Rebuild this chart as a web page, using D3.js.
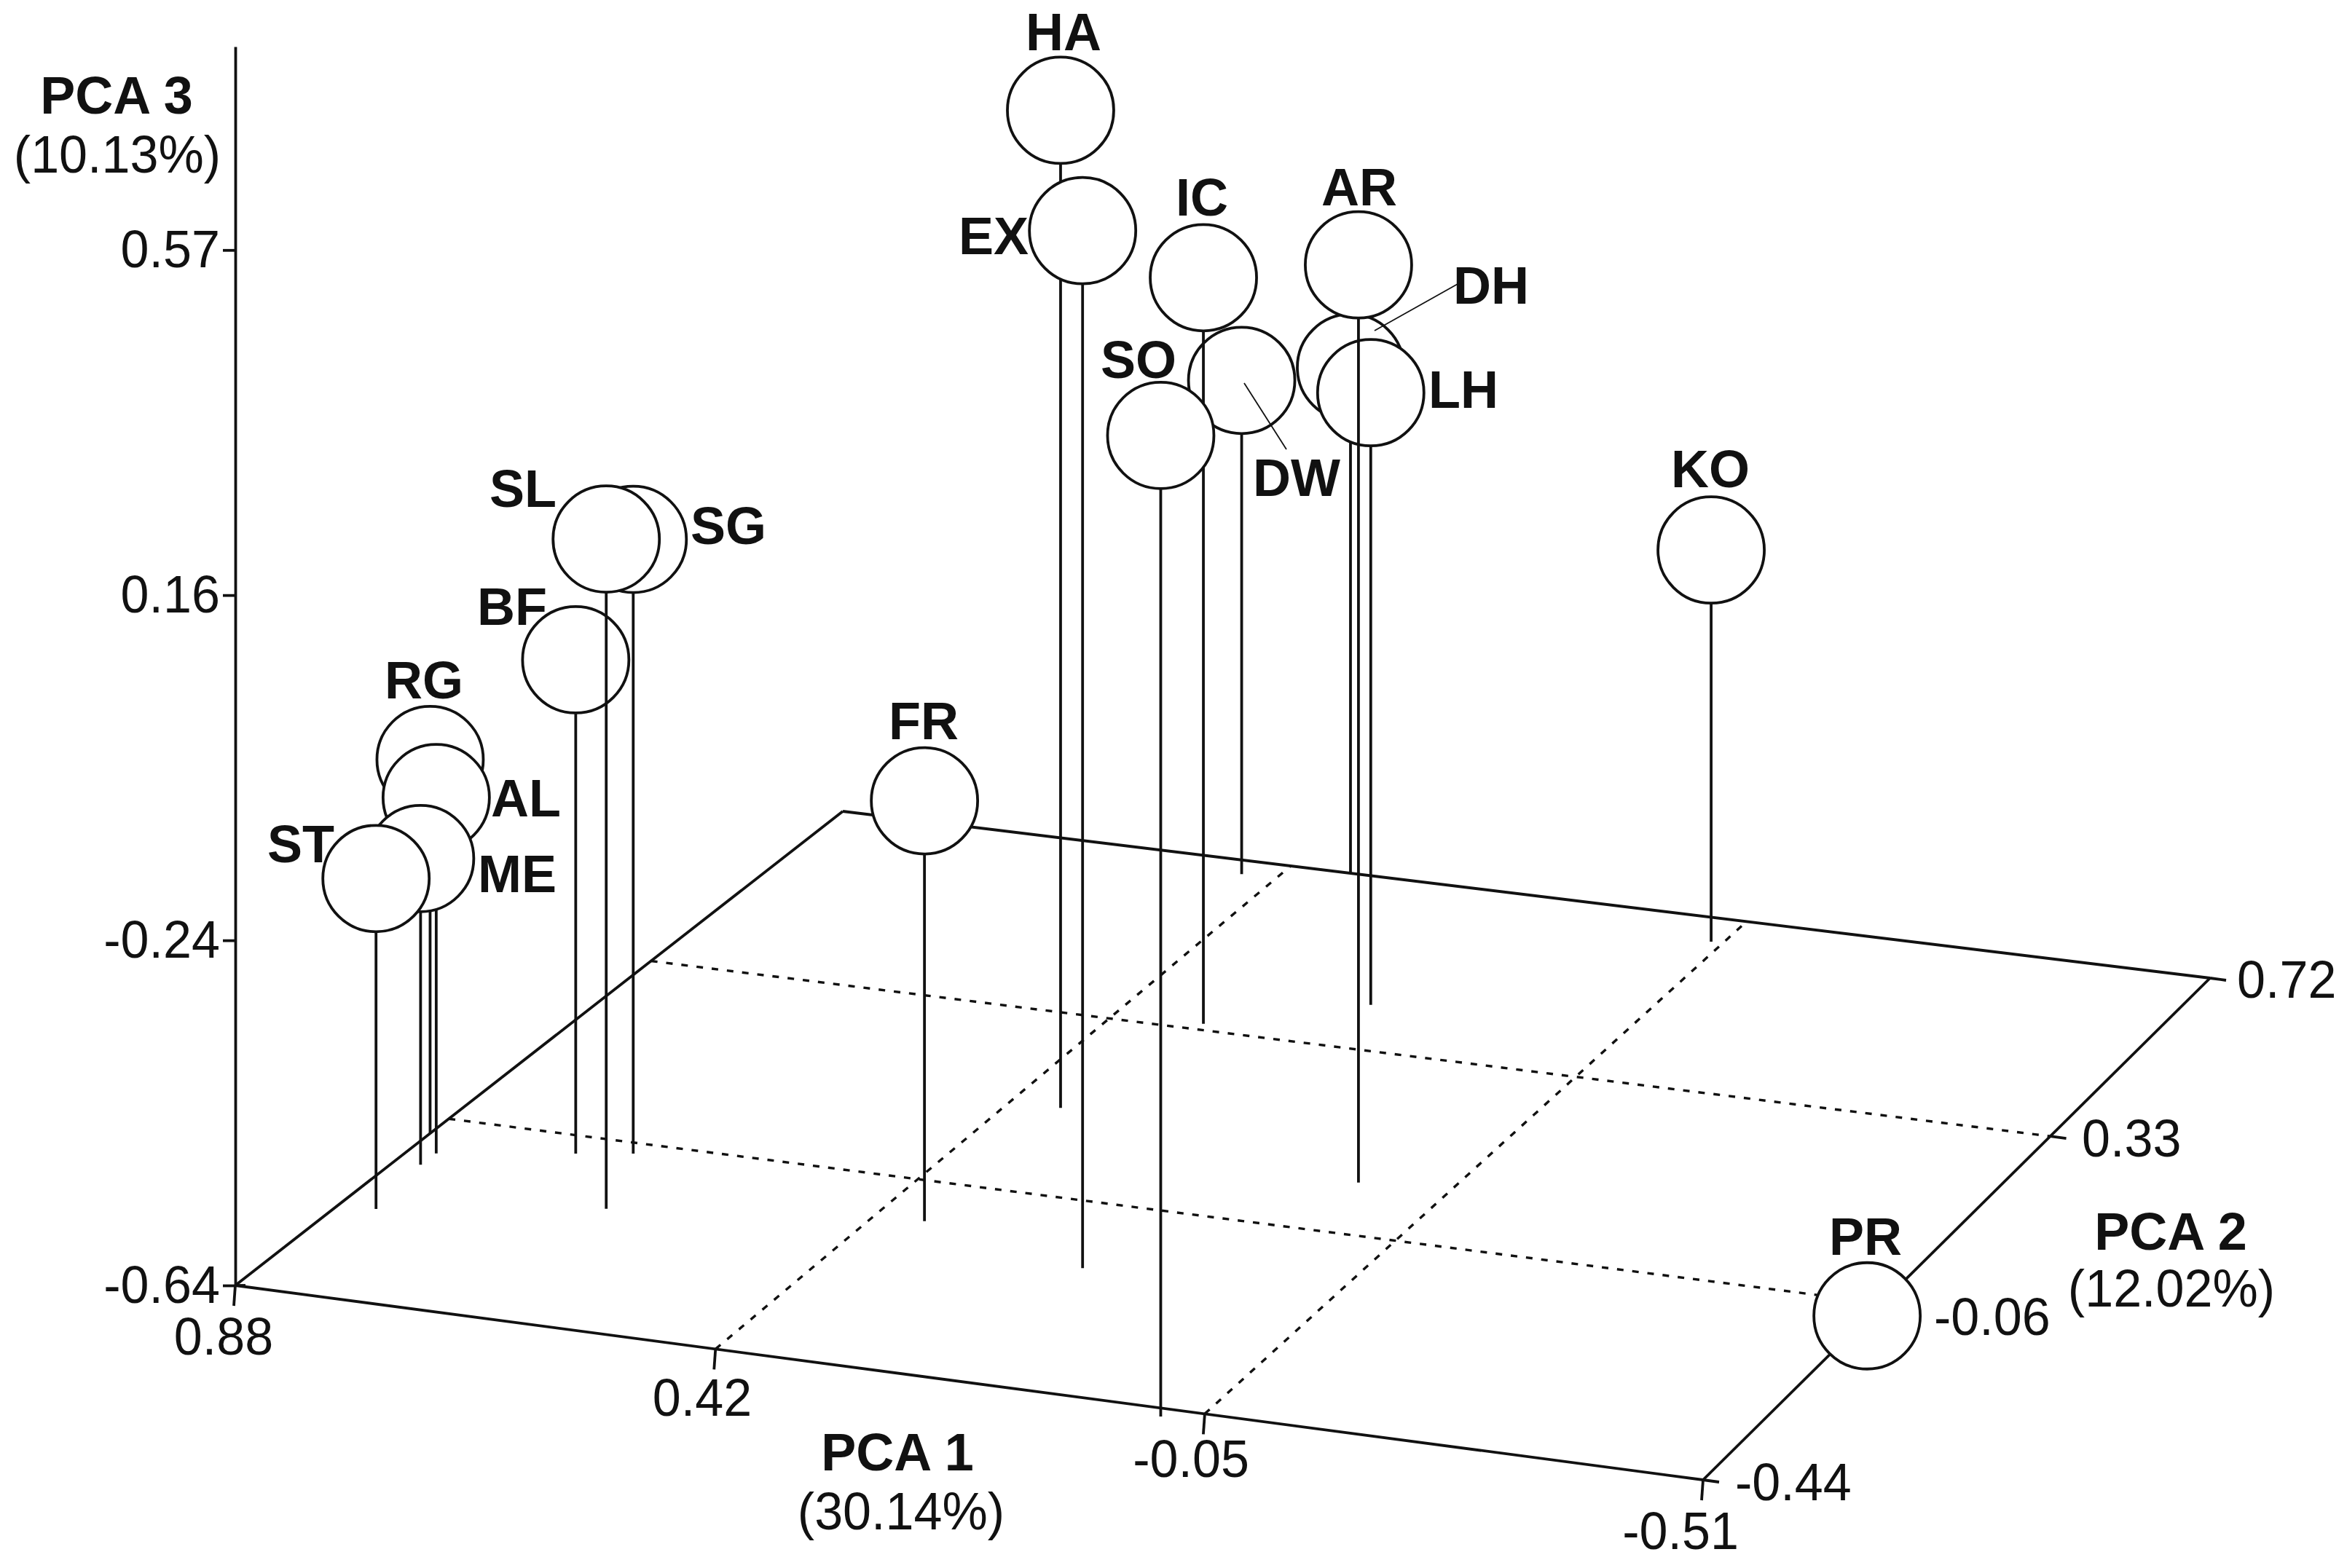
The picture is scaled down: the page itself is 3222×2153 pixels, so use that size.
<!DOCTYPE html>
<html>
<head>
<meta charset="utf-8">
<title>PCA 3D</title>
<script src="https://cdn.jsdelivr.net/npm/d3@7"></script>
<style>
html,body{margin:0;padding:0;background:#fff}
svg{display:block}
text{font-family:"Liberation Sans",Arial,sans-serif;fill:#111}
</style>
</head>
<body>
<svg id="chart" width="3222" height="2153"></svg>
<script>
// ---------- data ----------
const samples = ["RG","AL","ME","ST","SG","BF","SL","FR","HA","EX","DW","IC","SO","DH","LH","AR","KO","PR"];
const pc1 = [0.880,0.853,0.854,0.844,0.685,0.734,0.650,0.369,0.367,0.190,0.452,0.329,-0.013,0.356,0.202,0.039,-0.035,-0.523];
const pc2 = [-0.088,-0.127,-0.154,-0.254,-0.076,-0.091,-0.194,-0.136,0.131,-0.189,0.688,0.347,-0.456,0.721,0.433,0.055,0.665,-0.116];
const pc3 = [-0.192,-0.215,-0.275,-0.249,0.094,-0.050,0.153,-0.143,0.562,0.578,-0.021,0.272,0.485,-0.006,0.111,0.453,-0.154,-0.620];

const pc1Ticks = [0.88,0.4167,-0.0467,-0.51];
const pc1TickLabels = ["0.88","0.42","-0.05","-0.51"];
const pc2Ticks = [-0.44,-0.0533,0.3333,0.72];
const pc2TickLabels = ["-0.44","-0.06","0.33","0.72"];
const pc3Ticks = [-0.64,-0.2367,0.1667,0.57];
const pc3TickLabels = ["-0.64","-0.24","0.16","0.57"];
const pc3Top = 0.8077;

// ---------- layout ----------
const corner = {fl:[323,1765], fr:[2338,2032], bl:[1157,1114], br:[3034,1343]};
const axisTop = 64;
const radius = 73;
const stroke = 3.8;
const ink = "#111";
const labelSize = 72, tickFont = 73, tickSqueeze = 0.96;

const labelX = {RG:582,AL:722,ME:710,ST:413,SG:1000,BF:703,SL:718,FR:1268,HA:1460,EX:1364,DW:1780,IC:1650,SO:1563,DH:2047,LH:2009,AR:1866,KO:2348,PR:2561};
const labelY = {RG:959,AL:1121,ME:1225,ST:1184,SG:747,BF:858,SL:696,FR:1015,HA:69,EX:349,DW:681,IC:296,SO:519,DH:417,LH:560,AR:282,KO:669,PR:1723};

// homography from the unit floor square to the picture
function homography(c){
  const dx1=c.fr[0]-c.br[0], dx2=c.bl[0]-c.br[0], sx=c.fl[0]-c.fr[0]+c.br[0]-c.bl[0];
  const dy1=c.fr[1]-c.br[1], dy2=c.bl[1]-c.br[1], sy=c.fl[1]-c.fr[1]+c.br[1]-c.bl[1];
  const den=dx1*dy2-dx2*dy1;
  const g=(sx*dy2-dx2*sy)/den, h=(dx1*sy-sx*dy1)/den;
  const a=c.fr[0]-c.fl[0]+g*c.fr[0], b=c.bl[0]-c.fl[0]+h*c.bl[0];
  const d=c.fr[1]-c.fl[1]+g*c.fr[1], e=c.bl[1]-c.fl[1]+h*c.bl[1];
  return (u,v)=>{
    const w=g*u+h*v+1;
    return {x:(a*u+b*v+c.fl[0])/w, y:(d*u+e*v+c.fl[1])/w, w};
  };
}
const project = homography(corner);

const uScale = d3.scaleLinear().domain([pc1Ticks[0],pc1Ticks[3]]).range([0,1]);
const vScale = d3.scaleLinear().domain([pc2Ticks[0],pc2Ticks[3]]).range([0,1]);
const zScale = d3.scaleLinear().domain([pc3Ticks[0],pc3Top]).range([corner.fl[1],axisTop]);

const svg = d3.select("#chart");
const line = d3.line().x(d=>d.x).y(d=>d.y);
const pt = ([x,y])=>({x,y});

// floor outline
svg.append("g").selectAll("path")
  .data([[0,0,1,0],[1,0,1,1],[1,1,0,1],[0,1,0,0]])
  .join("path")
  .attr("d",d=>line([project(d[0],d[1]),project(d[2],d[3])]))
  .attr("fill","none").attr("stroke",ink).attr("stroke-width",stroke);

// dotted grid
const grid = svg.append("g").attr("fill","none").attr("stroke",ink)
  .attr("stroke-width",3.4).attr("stroke-dasharray","9 12");
grid.selectAll("path.p1").data(pc1Ticks.slice(1,3)).join("path").attr("class","p1")
  .attr("d",t=>line([project(uScale(t),0),project(uScale(t),1)]));
grid.selectAll("path.p2").data(pc2Ticks.slice(1,3)).join("path").attr("class","p2")
  .attr("d",t=>line([project(0,vScale(t)),project(1,vScale(t))]));

// PCA 3 axis
const zAxis = svg.append("g")
  .attr("transform",`translate(${corner.fl[0]},0)`)
  .call(d3.axisLeft(zScale).tickValues(pc3Ticks)
    .tickFormat((d,i)=>pc3TickLabels[i]).tickSize(17).tickSizeOuter(0).tickPadding(4));
zAxis.selectAll("path,line").attr("stroke",ink).attr("stroke-width",stroke);
zAxis.selectAll("text").attr("class","reg").attr("font-size",tickFont)
  .attr("font-family",'"Liberation Sans",Arial,sans-serif').style("fill","#111");

// small overhang of the lowest PCA 3 tick past the corner
svg.append("path")
  .attr("d",line([{x:corner.fl[0],y:zScale(pc3Ticks[0])},{x:corner.fl[0]+14,y:zScale(pc3Ticks[0])}]))
  .attr("fill","none").attr("stroke",ink).attr("stroke-width",stroke);

// PCA 1 ticks
const p1t = svg.append("g");
p1t.selectAll("path").data(pc1Ticks).join("path")
  .attr("d",t=>{const p=project(uScale(t),0);return line([p,{x:p.x-2,y:p.y+28}]);})
  .attr("fill","none").attr("stroke",ink).attr("stroke-width",stroke);
const pc1LabelPos = [[307,1860],[964,1944],[1635,2028],[2307,2127]];
p1t.selectAll("text").data(pc1TickLabels).join("text").attr("class","reg")
  .attr("x",(d,i)=>pc1LabelPos[i][0]).attr("y",(d,i)=>pc1LabelPos[i][1])
  .attr("text-anchor","middle").attr("font-size",tickFont).text(d=>d);

// PCA 2 ticks
const p2t = svg.append("g");
p2t.selectAll("path").data(pc2Ticks).join("path")
  .attr("d",t=>{const p=project(1,vScale(t));return line([p,{x:p.x+22,y:p.y+3}]);})
  .attr("fill","none").attr("stroke",ink).attr("stroke-width",stroke);
const pc2LabelPos = [[2382,2060],[2655,1833],[2858,1588],[3071,1370]];
p2t.selectAll("text").data(pc2TickLabels).join("text").attr("class","reg")
  .attr("x",(d,i)=>pc2LabelPos[i][0]).attr("y",(d,i)=>pc2LabelPos[i][1])
  .attr("font-size",tickFont).text(d=>d);

// stems and circles, back to front in listed order
const points = samples.map((name,i)=>{
  const base = project(uScale(pc1[i]),vScale(pc2[i]));
  const top = base.y-(corner.fl[1]-zScale(pc3[i]))/base.w;
  return {name,base,top};
});
const marks = svg.append("g").selectAll("g").data(points).join("g");
marks.append("line")
  .attr("x1",d=>d.base.x).attr("x2",d=>d.base.x)
  .attr("y1",d=>d.top).attr("y2",d=>d.base.y)
  .attr("stroke",ink).attr("stroke-width",stroke);
marks.append("circle")
  .attr("cx",d=>d.base.x).attr("cy",d=>d.top).attr("r",radius)
  .attr("fill","#fff").attr("stroke",ink).attr("stroke-width",stroke);

// sample labels
svg.append("g").selectAll("text").data(samples).join("text")
  .attr("x",d=>labelX[d]).attr("y",d=>labelY[d])
  .attr("text-anchor","middle").attr("font-weight","bold").attr("font-size",labelSize).text(d=>d);

// leader lines
svg.append("g").selectAll("path")
  .data([[[2001,390],[1887,454]],[[1708,526],[1766,617]]])
  .join("path").attr("d",d=>line(d.map(pt)))
  .attr("fill","none").attr("stroke",ink).attr("stroke-width",1.8);

// axis titles
const titles = [
  {t:"PCA 3",x:160,y:156,b:true},{t:"(10.13%)",x:161,y:237,b:false},
  {t:"PCA 2",x:2980,y:1716,b:true},{t:"(12.02%)",x:2981,y:1794,b:false},
  {t:"PCA 1",x:1232,y:2019,b:true},{t:"(30.14%)",x:1237,y:2100,b:false}
];
svg.append("g").selectAll("text").data(titles).join("text")
  .attr("class",d=>d.b?"bold":"reg")
  .attr("x",d=>d.x).attr("y",d=>d.y).attr("text-anchor","middle")
  .attr("font-weight",d=>d.b?"bold":"normal").attr("font-size",d=>d.b?labelSize:tickFont).text(d=>d.t);

// the reference's regular type is slightly narrower than this font
svg.selectAll("text.reg").each(function(){
  const len=this.getComputedTextLength();
  d3.select(this).attr("textLength",len*tickSqueeze).attr("lengthAdjust","spacingAndGlyphs");
});
</script>
</body>
</html>
